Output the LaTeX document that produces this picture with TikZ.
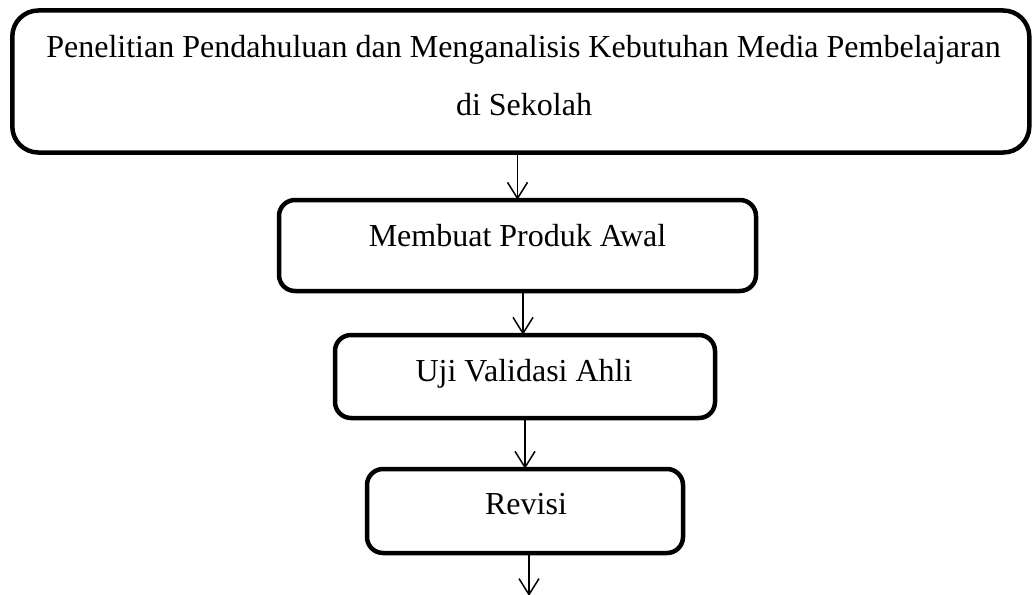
\documentclass[tikz,border=0pt]{standalone}
\usepackage{fontspec}
\setmainfont{Liberation Serif}
\usetikzlibrary{arrows.meta}
\begin{document}
\begin{tikzpicture}[x=1pt,y=-1pt,
  stepbox/.style={draw=black,line width=4.5pt,rounded corners=#1,inner sep=0pt,fill=white},
  stepbox/.default=16pt,
  txt/.style={anchor=base,inner sep=0pt,font=\fontsize{32}{38}\selectfont},
  arr/.style={line width=1.5pt,-{Straight Barb[length=16pt,width=20pt,line width=1.5pt]}}]
\useasboundingbox (0,0) rectangle (1032,594);
\node[stepbox=26pt,minimum width=1017pt,minimum height=142pt] (b1) at (520.8,81.5) {};
\node[stepbox,minimum width=477pt,minimum height=91pt] (b2) at (517.5,245.5) {};
\node[stepbox,minimum width=380pt,minimum height=83pt] (b3) at (525,376.5) {};
\node[stepbox,minimum width=316pt,minimum height=84pt] (b4) at (525,511) {};
\node[txt] (t1a) at (523.5,58) {Penelitian Pendahuluan dan Menganalisis Kebutuhan Media Pembelajaran};
\node[txt] (t1b) at (524,115) {di Sekolah};
\node[txt] (t2) at (517.5,246) {Membuat Produk Awal};
\node[txt] (t3) at (524,381) {Uji Validasi Ahli};
\node[txt] (t4) at (526,514) {Revisi};
\coordinate (end) at (529,596);
\draw[arr] ([yshift=2pt]b1.south -| b2.north) -- ([yshift=-2pt]b2.north);
\draw[arr] ([yshift=2pt]b2.south -| 523,0) -- ([yshift=-2pt]b3.north -| 523,0);
\draw[arr] ([yshift=2pt]b3.south -| b4.north) -- ([yshift=-2pt]b4.north);
\draw[arr] ([yshift=2pt]b4.south -| end) -- (end);
\end{tikzpicture}
\end{document}
